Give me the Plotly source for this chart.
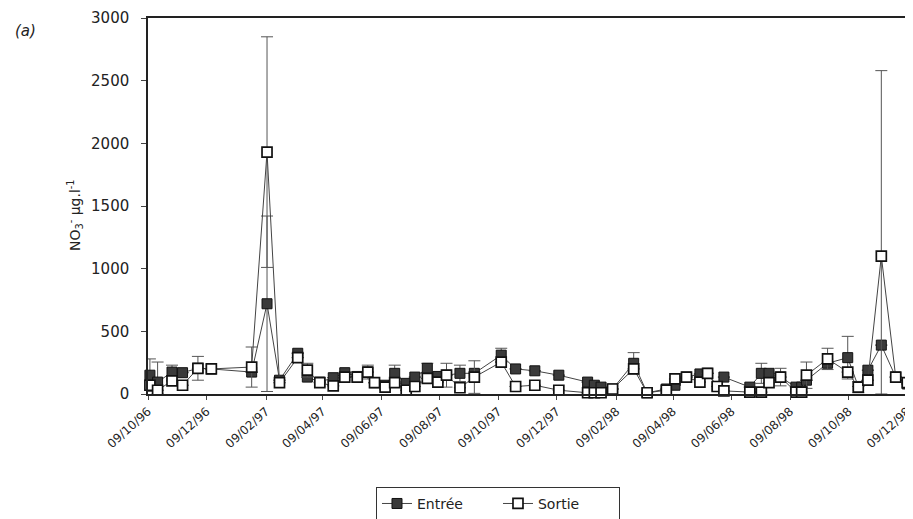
"""NO3- en entrée et en sortie, série 1996-1998 (panneau a)."""

import plotly.graph_objects as go

DATES = [
    "1996-10-11", "1996-10-19", "1996-11-03", "1996-11-14", "1996-11-30",
    "1996-12-14", "1997-01-25", "1997-02-10", "1997-02-23", "1997-03-14",
    "1997-03-24", "1997-04-06", "1997-04-20", "1997-05-02", "1997-05-15",
    "1997-05-26", "1997-06-02", "1997-06-13", "1997-06-23", "1997-07-05",
    "1997-07-14", "1997-07-27", "1997-08-07", "1997-08-16", "1997-08-30",
    "1997-09-14", "1997-10-12", "1997-10-27", "1997-11-16", "1997-12-11",
    "1998-01-10", "1998-01-17", "1998-01-24", "1998-02-05", "1998-02-27",
    "1998-03-13", "1998-04-02", "1998-04-11", "1998-04-23", "1998-05-07",
    "1998-05-15", "1998-05-25", "1998-06-01", "1998-06-28", "1998-07-10",
    "1998-07-18", "1998-07-30", "1998-08-15", "1998-08-21", "1998-08-26",
    "1998-09-17", "1998-10-08", "1998-10-19", "1998-10-29", "1998-11-12",
    "1998-11-27", "1998-12-09", "1998-12-22",
]

ENTREE = [
    150, 95, 175, 170, 205, 200, 175, 720, 110, 325,
    135, 95, 130, 170, 140, 175, 90, 70, 165, 85,
    135, 205, 140, 150, 165, 165, 310, 200, 185, 150,
    95, 70, 55, 40, 245, 10, 40, 70, 135, 160,
    165, 60, 135, 55, 165, 165, 135, 55, 55, 110,
    245, 290, 60, 190, 390, 135, 80, 60,
]

SORTIE = [
    70, 30, 105, 70, 205, 200, 215, 1930, 90, 290,
    190, 90, 65, 135, 135, 175, 90, 55, 90, 30,
    60, 125, 95, 150, 50, 135, 255, 60, 70, 30,
    10, 10, 10, 40, 200, 10, 30, 120, 135, 95,
    165, 60, 25, 15, 15, 90, 135, 15, 15, 150,
    280, 175, 55, 110, 1100, 135, 90, 70,
]

ERR_ENTREE = [
    130, 160, 55, 0, 0, 0, 0, 700, 0, 0,
    0, 0, 0, 0, 0, 0, 0, 0, 65, 0,
    0, 40, 0, 0, 65, 0, 55, 0, 0, 0,
    0, 0, 0, 0, 85, 0, 0, 0, 0, 0,
    0, 0, 0, 0, 80, 0, 70, 0, 0, 0,
    0, 170, 0, 0, 0, 0, 0, 0,
]

ERR_SORTIE = [
    0, 0, 0, 0, 95, 0, 160, 920, 0, 0,
    55, 0, 0, 0, 40, 55, 0, 0, 0, 0,
    0, 0, 0, 95, 0, 130, 0, 0, 0, 0,
    0, 0, 0, 0, 0, 0, 0, 0, 0, 0,
    0, 0, 0, 0, 0, 0, 0, 0, 0, 105,
    85, 0, 45, 0, 1480, 0, 0, 0,
]

Y_TICKS = [0, 500, 1000, 1500, 2000, 2500, 3000]

FONT = "DejaVu Sans"
INK = "#222222"


def err_style(values, errors):
    return dict(
        type="data",
        array=errors,
        arrayminus=[min(e, v) for e, v in zip(errors, values)],
        color="#555555",
        thickness=1,
        width=6,
    )


fig = go.Figure()
fig.add_trace(
    go.Scatter(
        x=DATES, y=ENTREE, name="Entrée", mode="lines+markers",
        line=dict(color="#444444", width=1),
        marker=dict(symbol="square", size=10, color="#3a3a3a",
                    line=dict(color="#111111", width=1)),
        error_y=err_style(ENTREE, ERR_ENTREE),
        cliponaxis=False,
    )
)
fig.add_trace(
    go.Scatter(
        x=DATES, y=SORTIE, name="Sortie", mode="lines+markers",
        line=dict(color="#444444", width=1),
        marker=dict(symbol="square", size=10, color="white",
                    line=dict(color="#111111", width=1.7)),
        error_y=err_style(SORTIE, ERR_SORTIE),
        cliponaxis=False,
    )
)

# the page body adds an 8 px margin, so the figure is 8 px smaller
fig.update_layout(
    width=905, height=511,
    margin=dict(l=140, r=0, t=10, b=125, autoexpand=False),
    paper_bgcolor="white", plot_bgcolor="white",
    font=dict(family=FONT, color=INK, size=12),
    showlegend=True,
    legend=dict(
        orientation="h", x=0.4575, xanchor="center", y=-0.247, yanchor="top",
        bordercolor="#333333", borderwidth=1, bgcolor="white",
        font=dict(size=14, family=FONT, color=INK),
        entrywidth=76,
    ),
)
fig.update_xaxes(
    type="date", automargin=False, ticklabeloverflow="allow",
    range=["1996-10-09", "1998-12-15"],
    tick0="1996-10-09", dtick="M2", tickformat="%d/%m/%y",
    tickangle=-42, tickfont=dict(size=12, color=INK),
    showgrid=False, zeroline=False,
    showline=True, linecolor="#222222", linewidth=1.5, mirror=True,
    ticks="outside", ticklen=4, tickcolor="#444444",
)
fig.update_yaxes(
    range=[0, 3000], tickvals=Y_TICKS, automargin=False,
    tickfont=dict(size=15, color=INK), ticklabelstandoff=9,
    showgrid=False, zeroline=False,
    showline=True, linecolor="#222222", linewidth=1.5,
    ticks="outside", ticklen=5, tickcolor="#444444",
)
fig.add_annotation(
    text="NO<sub>3</sub><sup>-</sup> µg.l<sup>-1</sup>",
    textangle=-90, xref="paper", yref="paper",
    x=-0.0954, y=0.476, xanchor="center", yanchor="middle",
    showarrow=False, font=dict(size=14, color=INK),
)
fig.add_annotation(
    text="<i>(a)</i>", xref="paper", yref="paper",
    x=-0.176, y=0.965, xanchor="left", yanchor="middle",
    showarrow=False, font=dict(size=15, color=INK),
)

fig.write_html("out.html")
